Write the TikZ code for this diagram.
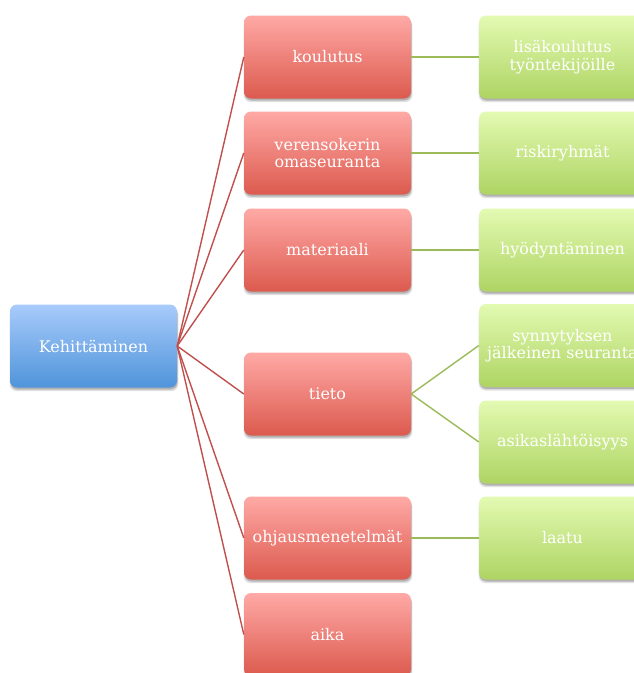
\documentclass[tikz,border=0pt]{standalone}
\usepackage{fontspec}
\setmainfont{DejaVu Serif}
\usetikzlibrary{shadows}
\definecolor{redline}{HTML}{C0504D}
\definecolor{greenline}{HTML}{9BBB59}
\definecolor{bluetop}{HTML}{A8CBFB}
\definecolor{bluebot}{HTML}{4F94DA}
\definecolor{redtop}{HTML}{FFA9A6}
\definecolor{redbot}{HTML}{DC5A4E}
\definecolor{greentop}{HTML}{E3FAB2}
\definecolor{greenbot}{HTML}{AED463}
\tikzset{
  box/.style={rounded corners=7pt, minimum width=167pt, minimum height=83pt, inner sep=0pt,
    text=white, align=center, font=\fontsize{16}{17.5}\selectfont,
    general shadow={shadow xshift=0.5pt, shadow yshift=-3.2pt, shadow scale=1.01, opacity=0.12, fill=black},
    drop shadow={shadow xshift=0.5pt, shadow yshift=-2pt, opacity=0.2, fill=black}},
  rootbox/.style={box, top color=bluetop, bottom color=bluebot},
  redbox/.style={box, top color=redtop, bottom color=redbot},
  greenbox/.style={box, top color=greentop, bottom color=greenbot},
  redcon/.style={draw=redline, line width=1.4pt},
  greencon/.style={draw=greenline, line width=1.4pt}
}
\begin{document}
\begin{tikzpicture}[x=1pt, y=-1pt]
\useasboundingbox (0,0) rectangle (634,673);
\clip (0,0) rectangle (634,673);
\node[rootbox] (root) at (93.5,346) {Kehittäminen};
\node[redbox] (r1) at (327.5,57) {koulutus};
\node[redbox] (r2) at (327.5,153) {verensokerin\\omaseuranta};
\node[redbox] (r3) at (327.5,250) {materiaali};
\node[redbox] (r4) at (327.5,394) {tieto};
\node[redbox] (r5) at (327.5,538) {ohjausmenetelmät};
\node[redbox] (r6) at (327.5,634.5) {aika};
\node[greenbox] (g1) at (562.5,57) {lisäkoulutus\\työntekijöille};
\node[greenbox] (g2) at (562.5,153) {riskiryhmät};
\node[greenbox] (g3) at (562.5,250) {hyödyntäminen};
\node[greenbox] (g4) at (562.5,345.5) {synnytyksen\\jälkeinen seuranta};
\node[greenbox] (g5) at (562.5,442) {asikaslähtöisyys};
\node[greenbox] (g6) at (562.5,538) {laatu};
\foreach \r in {r1,r2,r3,r4,r5,r6} \draw[redcon] (root.east) -- (\r.west);
\draw[greencon] (r1.east) -- (g1.west);
\draw[greencon] (r2.east) -- (g2.west);
\draw[greencon] (r3.east) -- (g3.west);
\draw[greencon] (r4.east) -- (g4.west);
\draw[greencon] (r4.east) -- (g5.west);
\draw[greencon] (r5.east) -- (g6.west);
\end{tikzpicture}
\end{document}
